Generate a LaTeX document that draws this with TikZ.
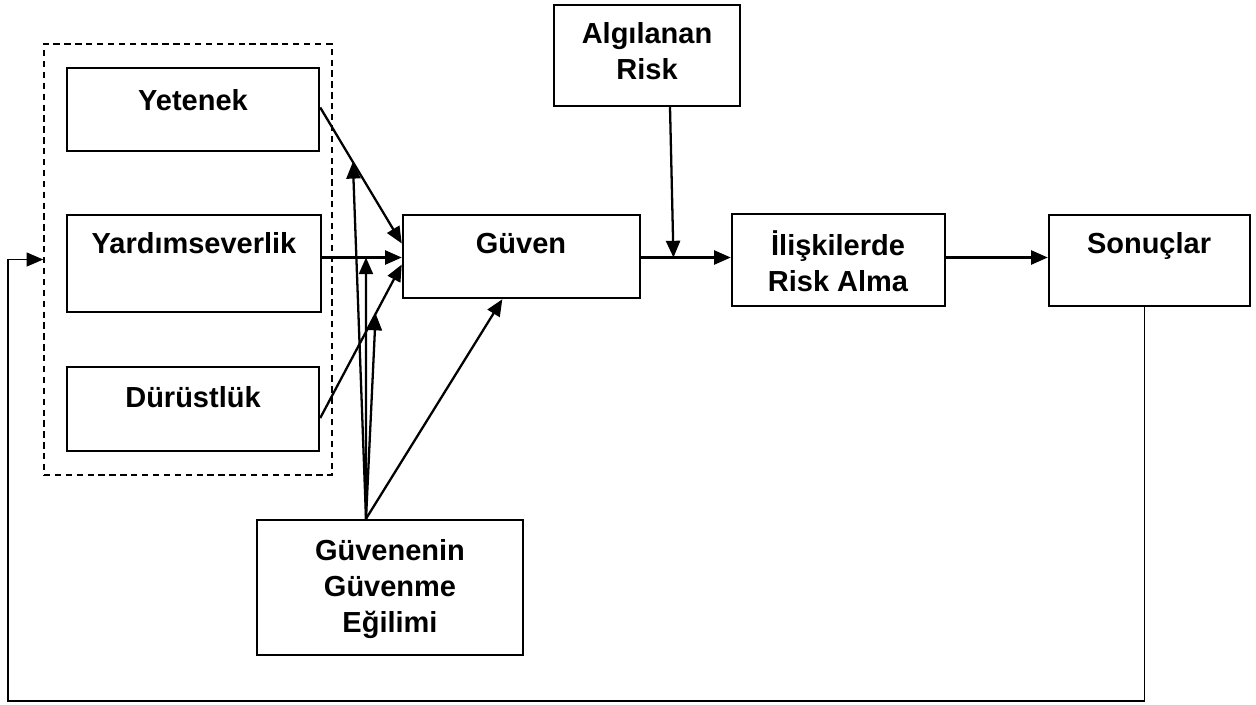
\documentclass[tikz,border=0pt]{standalone}
\usepackage{fontspec}
\setmainfont{Liberation Sans}
\usetikzlibrary{calc,fit,arrows.meta}
\begin{document}
\begin{tikzpicture}[x=0.02cm,y=-0.02cm,
  box/.style={draw,line width=1.4pt,inner sep=0pt},
  grp/.style={draw,line width=0.9pt,dash pattern=on 3.6pt off 2.6pt,inner sep=0pt},
  lbl/.style={anchor=base,align=center,font=\bfseries\fontsize{16.5}{20.4}\selectfont,inner sep=0pt},
  arr/.style={line width=1.3pt,-{Triangle[length=9.5pt,width=8pt]}},
  fb/.style={line width=0.7pt,-{Triangle[length=9.5pt,width=8pt]}}]
\useasboundingbox (0,0) rectangle (1256,704);

% boxes
\node[grp,fit={(44,44) (332,475)}] (grp) {};
\node[box,fit={(67,68) (319,151)}] (yet) {};
\node[box,fit={(67,215) (321,312)}] (yar) {};
\node[box,fit={(67,367) (319,451)}] (dur) {};
\node[box,fit={(403,215) (640,298)}] (guv) {};
\node[box,fit={(554,5) (740,106)}] (alg) {};
\node[box,fit={(732,214) (945,306)}] (ilis) {};
\node[box,fit={(1049,215) (1250,306)}] (son) {};
\node[box,fit={(257,520) (523,655)}] (gen) {};

% labels (anchored at the baseline of the last line)
\node[lbl] (yetT) at (193,110) {Yetenek};
\node[lbl] (yarT) at (194,253) {Yardımseverlik};
\node[lbl] (durT) at (193,407) {Dürüstlük};
\node[lbl] (guvT) at (521,253) {Güven};
\node[lbl] (algT) at (647,79) {Algılanan\\Risk};
\node[lbl] (ilisT) at (838,291) {İlişkilerde\\Risk Alma};
\node[lbl] (sonT) at (1149,253) {Sonuçlar};
\node[lbl] (genT) at (390,632) {Güvenenin\\Güvenme\\Eğilimi};

% connection points
\coordinate (yetO) at ($(yet.east)+(0,-2)$);
\coordinate (guvA) at ($(guv.west)+(0,-13)$);
\coordinate (guvB) at ($(guv.west)+(0,1)$);
\coordinate (yarO) at (yar.east |- guvB);
\coordinate (guvC) at ($(guv.west)+(0,8)$);
\coordinate (durO) at ($(dur.east)+(0,9)$);
\coordinate (guvE) at ($(guv.east)+(0,1)$);
\coordinate (ilisW) at (ilis.west |- guvE);
\coordinate (ilisE) at (ilis.east |- guvE);
\coordinate (sonW) at (son.west |- guvE);
\coordinate (src) at ($(gen.north)+(-24,0)$);
\coordinate (algO) at ($(alg.south)+(23,0)$);
\coordinate (sonO) at ($(son.south)+(-5,0)$);

% into trust
\draw[arr] (yetO) -- (guvA);
\draw[arr] (yarO) -- (guvB);
\draw[arr] (durO) -- (guvC);

% trustor's propensity
\draw[arr] (src) -- ($(yetO)!0.4!(guvA)$);
\draw[arr] (src) -- ($(yarO)!0.55!(guvB)$);
\draw[arr] (src) -- ($(durO)!0.68!(guvC)$);
\draw[arr] (src) -- ($(guv.south west)!0.42!(guv.south east)$);

% main chain
\draw[arr] (guvE) -- (ilisW);
\draw[arr] (algO) -- ($(guvE)!0.36!(ilisW)$);
\draw[arr] (ilisE) -- (sonW);

% feedback loop
\draw[fb] (sonO) -- (sonO |- 0,701) -- (8,701) -- (8,0 |- grp.west) -- (grp.west);
\end{tikzpicture}
\end{document}
